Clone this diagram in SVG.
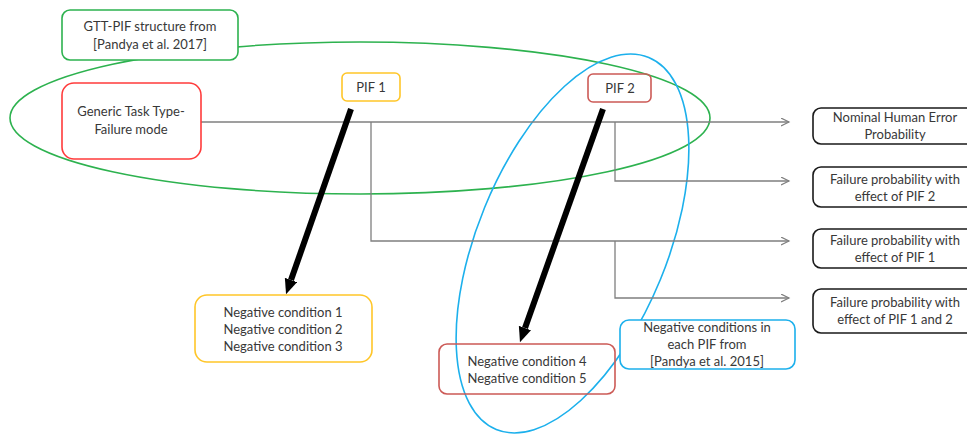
<svg xmlns="http://www.w3.org/2000/svg" width="967" height="434" viewBox="0 0 967 434">
  <style>
    text { font-family: Lato, "Liberation Sans", sans-serif; font-size: 13px; fill: #383838; text-anchor: middle; }
    .box { fill: none; stroke-width: 1.6; }
    .callout { fill: #ffffff; stroke-width: 1.6; }
    .green { stroke: #2db24f; }
    .blue { stroke: #1cb0ec; }
    .yellow { stroke: #ffc629; }
    .red { stroke: #ff3b3b; }
    .dullred { stroke: #cc5a56; }
    .black { stroke: #1a1a1a; }
    .ring { fill: none; stroke-width: 1.6; }
    .flow { fill: none; stroke: #7f7f7f; stroke-width: 1.3; }
    .thick { stroke: #000000; stroke-width: 6; }
  </style>
  <defs>
    <marker id="open-head" markerUnits="userSpaceOnUse" markerWidth="10" markerHeight="10" refX="8" refY="4" orient="auto">
      <path d="M0,0 L8,4 L0,8" fill="none" stroke="#7f7f7f" stroke-width="1.2"/>
    </marker>
    <marker id="solid-head" markerUnits="userSpaceOnUse" markerWidth="16" markerHeight="14" refX="0" refY="6.5" orient="auto">
      <path d="M0,0 L15,6.5 L0,13 z" fill="#000000"/>
    </marker>
  </defs>

  <!-- grouping rings -->
  <g id="rings">
    <ellipse class="ring green" cx="360" cy="118" rx="350" ry="76"/>
    <ellipse class="ring blue" cx="0" cy="0" rx="95" ry="201" transform="translate(572.5 243.5) rotate(22.3)"/>
  </g>

  <!-- event tree branches and PIF influence arrows -->
  <g id="connectors">
    <path class="flow" d="M201,122 H789" marker-end="url(#open-head)"/>
    <path class="flow" d="M615,122 V181 H789" marker-end="url(#open-head)"/>
    <path class="flow" d="M371,122 V241 H789" marker-end="url(#open-head)"/>
    <path class="flow" d="M615,241 V298 H789" marker-end="url(#open-head)"/>
    <line class="thick" x1="351" y1="109" x2="291" y2="280" marker-end="url(#solid-head)"/>
    <line class="thick" x1="603" y1="109" x2="525" y2="328" marker-end="url(#solid-head)"/>
  </g>

  <g id="gtt-pif-note">
    <rect class="callout green" x="62" y="10" width="176" height="50" rx="8"/>
    <text x="150" y="31">GTT-PIF structure from</text>
    <text x="150" y="49">[Pandya et al. 2017]</text>
  </g>

  <g id="generic-task">
    <rect class="box red" x="62" y="83" width="139" height="76" rx="12"/>
    <text x="131" y="116">Generic Task Type-</text>
    <text x="131" y="134">Failure mode</text>
  </g>

  <g id="pif1">
    <rect class="callout yellow" x="342" y="73" width="58" height="28" rx="5"/>
    <text x="371" y="92">PIF 1</text>
  </g>

  <g id="pif2">
    <rect class="box dullred" x="588" y="74" width="63" height="28" rx="5"/>
    <text x="620" y="93">PIF 2</text>
  </g>

  <g id="outcome-nominal">
    <rect class="callout black" x="813" y="108" width="164" height="36" rx="8"/>
    <text x="895" y="122">Nominal  Human Error</text>
    <text x="895" y="139">Probability</text>
  </g>

  <g id="outcome-pif2">
    <rect class="callout black" x="813" y="167" width="164" height="40" rx="8"/>
    <text x="895" y="184">Failure probability with</text>
    <text x="895" y="201">effect of PIF 2</text>
  </g>

  <g id="outcome-pif1">
    <rect class="callout black" x="813" y="229" width="164" height="39" rx="8"/>
    <text x="895" y="245">Failure probability with</text>
    <text x="895" y="262">effect of PIF 1</text>
  </g>

  <g id="outcome-pif1-2">
    <rect class="callout black" x="813" y="289" width="164" height="44" rx="8"/>
    <text x="895" y="307">Failure probability with</text>
    <text x="895" y="324">effect of PIF 1 and 2</text>
  </g>

  <g id="conditions-pif1">
    <rect class="callout yellow" x="195" y="295" width="177" height="67" rx="12"/>
    <text x="283" y="317">Negative condition 1</text>
    <text x="283" y="334">Negative condition 2</text>
    <text x="283" y="351">Negative condition 3</text>
  </g>

  <g id="conditions-pif2">
    <rect class="box dullred" x="439" y="344" width="176" height="50" rx="8"/>
    <text x="527" y="366">Negative condition 4</text>
    <text x="527" y="383">Negative condition 5</text>
  </g>

  <g id="conditions-note">
    <rect class="callout blue" x="620" y="320" width="175" height="49" rx="9"/>
    <text x="707" y="332">Negative conditions in</text>
    <text x="707" y="349">each PIF from</text>
    <text x="707" y="366">[Pandya et al. 2015]</text>
  </g>
</svg>
